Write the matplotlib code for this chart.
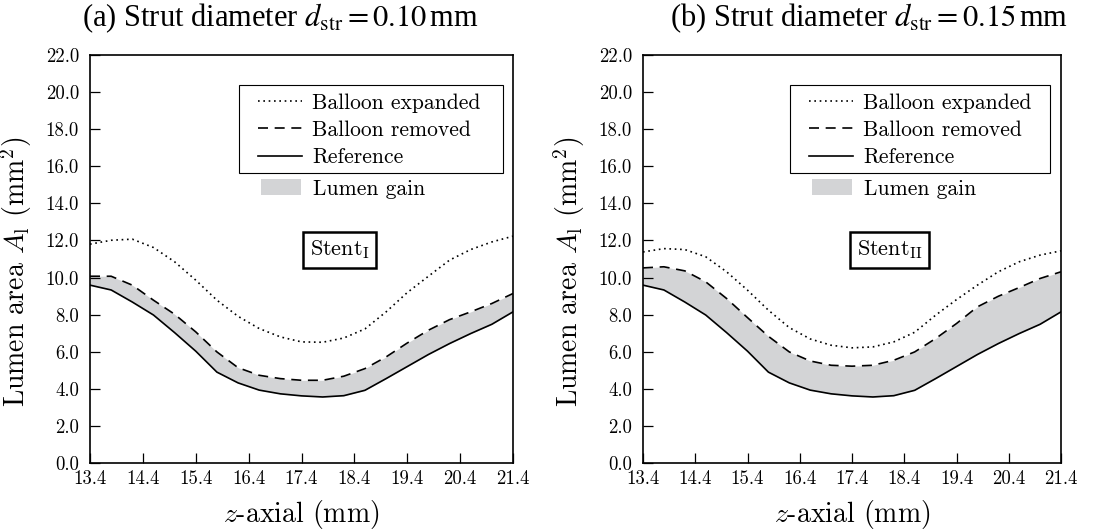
import matplotlib
matplotlib.use("Agg")
import matplotlib.pyplot as plt
from matplotlib.patches import Patch, Rectangle
from matplotlib.lines import Line2D
from matplotlib.ticker import FormatStrFormatter

plt.rcParams['font.family'] = ['cmr10']
plt.rcParams['mathtext.fontset'] = 'cm'
plt.rcParams['axes.unicode_minus'] = False

# axial positions (mm)
z = [13.4, 13.8, 14.2, 14.6, 15.0, 15.4, 15.8, 16.2, 16.6, 17.0, 17.4,
     17.8, 18.2, 18.6, 19.0, 19.4, 19.8, 20.2, 20.6, 21.0, 21.4]

# reference lumen area (same for both stents)
ref = [9.59, 9.33, 8.68, 7.98, 7.03, 6.03, 4.90, 4.32, 3.93, 3.73, 3.62,
       3.56, 3.63, 3.92, 4.55, 5.20, 5.85, 6.44, 6.98, 7.48, 8.15]

# stent I (d_str = 0.10 mm)
exp_1 = [11.80, 12.01, 12.07, 11.62, 10.85, 9.86, 8.78, 7.91, 7.25, 6.80, 6.53,
         6.51, 6.74, 7.23, 8.15, 9.19, 10.07, 10.94, 11.51, 11.92, 12.23]
rem_1 = [10.07, 10.07, 9.59, 8.78, 8.02, 7.07, 5.99, 5.14, 4.73, 4.55, 4.46,
         4.46, 4.68, 5.09, 5.72, 6.47, 7.16, 7.73, 8.15, 8.60, 9.14]

# stent II (d_str = 0.15 mm)
exp_2 = [11.38, 11.56, 11.51, 11.12, 10.31, 9.32, 8.24, 7.30, 6.69, 6.35, 6.21,
         6.26, 6.53, 7.05, 7.97, 8.81, 9.59, 10.31, 10.85, 11.21, 11.44]
rem_2 = [10.52, 10.58, 10.36, 9.77, 8.87, 7.84, 6.83, 5.99, 5.50, 5.27, 5.22,
         5.27, 5.54, 5.99, 6.71, 7.52, 8.42, 8.99, 9.46, 9.95, 10.31]

titles = [r"(a) Strut diameter $d_{\mathrm{str}} = 0.10\,$mm",
          r"(b) Strut diameter $d_{\mathrm{str}} = 0.15\,$mm"]
stent_labels = [r"Stent$_{\mathrm{I}}$", r"Stent$_{\mathrm{II}}$"]

xticks = [13.4, 14.4, 15.4, 16.4, 17.4, 18.4, 19.4, 20.4, 21.4]
yticks = [0, 2, 4, 6, 8, 10, 12, 14, 16, 18, 20, 22]

fig = plt.figure(figsize=(11.11, 5.31), dpi=100)
W, H = 1111, 531
boxes = [(90, 463, 513, 55), (643, 463, 1061, 55)]
title_x = [280, 869]
# legend frame in pixels (left, right)
frames = [(239, 503), (790, 1050)]
dash = (0, (6, 4))
dot = (0, (1, 2.2))
gray = '#d3d4d6'

for i, (exp, rem) in enumerate([(exp_1, rem_1), (exp_2, rem_2)]):
    x0, y0, x1, y1 = boxes[i]
    aw, ah = x1 - x0, y0 - y1
    ax = fig.add_axes([x0 / W, 1 - y0 / H, aw / W, ah / H])
    ax.fill_between(z, ref, rem, color=gray, lw=0)
    ax.plot(z, exp, color='black', lw=1.2, linestyle=dot)
    ax.plot(z, rem, color='black', lw=1.2, linestyle=dash)
    ax.plot(z, ref, color='black', lw=1.2)
    ax.set_xlim(13.4, 21.4)
    ax.set_ylim(0, 22)
    ax.set_xticks(xticks)
    ax.set_yticks(yticks)
    ax.yaxis.set_major_formatter(FormatStrFormatter('%.1f'))
    ax.xaxis.set_major_formatter(FormatStrFormatter('%.1f'))
    ax.tick_params(direction='in', length=7, width=0.9, labelsize=13.5)
    ax.tick_params(axis='x', pad=5)
    ax.tick_params(axis='y', pad=8)
    for s in ax.spines.values():
        s.set_linewidth(1.2)
    ax.set_xlabel(r"$z$-axial (mm)", fontsize=20, labelpad=7)
    ax.set_ylabel(r"Lumen area $A_{\mathrm{l}}$ (mm$^2$)", fontsize=20)
    ax.yaxis.set_label_coords(-56 / aw, (y0 - 272) / ah)

    # legend frame drawn by hand
    fl, fr = frames[i]
    ax.add_patch(Rectangle(((fl - x0) / aw, (y0 - 173) / ah), (fr - fl) / aw, 88 / ah,
                           transform=ax.transAxes, fc='white', ec='black', lw=0.8,
                           zorder=4))
    handles = [Line2D([], [], color='black', lw=1.2, linestyle=dot),
               Line2D([], [], color='black', lw=1.2, linestyle=dash),
               Line2D([], [], color='black', lw=1.2)]
    leg = ax.legend(handles, ["Balloon expanded", "Balloon removed", "Reference"],
                    loc='upper left', bbox_to_anchor=((fl + 19 - x0) / aw, (y0 - 93) / ah),
                    borderaxespad=0, borderpad=0, fontsize=15.5, handlelength=2.05,
                    handletextpad=0.47, labelspacing=0.36, frameon=False)
    leg.set_zorder(5)
    ax.add_artist(leg)
    leg2 = ax.legend([Patch(facecolor=gray, edgecolor='none')], ["Lumen gain"],
                     loc='upper left', bbox_to_anchor=((fl + 22 - x0) / aw, (y0 - 179) / ah),
                     borderaxespad=0, borderpad=0, fontsize=15.5, handlelength=1.86,
                     handleheight=0.75, handletextpad=0.55, frameon=False)
    leg2.set_zorder(5)

    ax.text(0.59, 0.522, stent_labels[i], transform=ax.transAxes, fontsize=16,
            ha='center', va='center', zorder=6,
            bbox=dict(boxstyle='square,pad=0.3', fc='white', ec='black', lw=1.8))

    fig.text(title_x[i] / W, 1 - 18 / H, titles[i], ha='center', va='center',
             fontsize=22, family='Liberation Serif', math_fontfamily='stix')

fig.savefig("out.png", dpi=100)
